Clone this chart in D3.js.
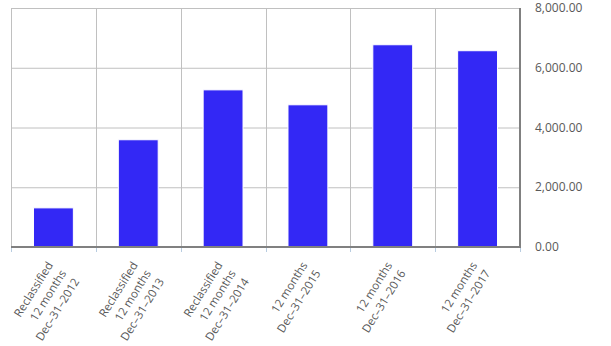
<!DOCTYPE html>
<html>
<head>
<meta charset="utf-8">
<script src="https://cdn.jsdelivr.net/npm/d3@7.9.0/dist/d3.min.js"></script>
<style>
  body { margin: 0; background: #fff; }
  svg { display: block; font-family: "Open Sans", sans-serif; }
</style>
</head>
<body>
<svg id="chart" width="611" height="346"></svg>
<script>
const periodLabels = [
  ['Reclassified', '12 months', 'Dec–31–2012'],
  ['Reclassified', '12 months', 'Dec–31–2013'],
  ['Reclassified', '12 months', 'Dec–31–2014'],
  ['12 months', 'Dec–31–2015'],
  ['12 months', 'Dec–31–2016'],
  ['12 months', 'Dec–31–2017']
];
const values = [1310, 3590, 5260, 4760, 6770, 6570];
const yTicks = [0, 2000, 4000, 6000, 8000];

const svg = d3.select('#chart');
const plotLeft = 11, plotRight = 520, plotTop = 8, plotBottom = 247;

const x = d3.scaleBand()
  .domain(d3.range(values.length))
  .range([plotLeft, plotRight])
  .paddingInner(0.53)
  .paddingOuter(0.265);
const y = d3.scaleLinear().domain([0, 8000]).range([plotBottom, plotTop]);

// category boundaries for vertical grid
const step = x.step();
const bounds = d3.range(values.length + 1).map(i => plotLeft + i * step);

// horizontal grid
svg.append('g').selectAll('line').data(yTicks.slice(1))
  .join('line')
  .attr('x1', plotLeft).attr('x2', plotRight)
  .attr('y1', d => y(d) + 0.5).attr('y2', d => y(d) + 0.5)
  .attr('stroke', '#c0c0c0').attr('stroke-width', 1);

// vertical grid
svg.append('g').selectAll('line').data(bounds.slice(0, -1))
  .join('line')
  .attr('x1', d => Math.round(d) + 0.5).attr('x2', d => Math.round(d) + 0.5)
  .attr('y1', plotTop).attr('y2', plotBottom)
  .attr('stroke', '#c0c0c0').attr('stroke-width', 1);

// ticks under axis
svg.append('g').selectAll('line').data(bounds)
  .join('line')
  .attr('x1', d => Math.round(d) + 0.5).attr('x2', d => Math.round(d) + 0.5)
  .attr('y1', plotBottom).attr('y2', plotBottom + 5)
  .attr('stroke', '#b8cce0').attr('stroke-width', 1);

// bars
svg.append('g').selectAll('rect').data(values)
  .join('rect')
  .attr('x', (d, i) => x(i))
  .attr('width', x.bandwidth())
  .attr('y', d => y(d))
  .attr('height', d => plotBottom - y(d))
  .attr('fill', '#3328f5')
  .attr('stroke', '#fff').attr('stroke-width', 1);

// axis lines
svg.append('line')
  .attr('x1', plotLeft).attr('x2', plotRight + 1)
  .attr('y1', plotBottom).attr('y2', plotBottom)
  .attr('stroke', '#808080').attr('stroke-width', 2);
svg.append('line')
  .attr('x1', plotRight).attr('x2', plotRight)
  .attr('y1', plotTop).attr('y2', plotBottom)
  .attr('stroke', '#808080').attr('stroke-width', 2);

// y labels
svg.append('g').selectAll('text').data(yTicks)
  .join('text')
  .attr('x', 535)
  .attr('y', d => y(d))
  .attr('dy', '0.35em')
  .attr('font-size', 12)
  .attr('fill', '#595959')
  .text(d => d3.format(',.2f')(d));

// x labels
const lab = svg.append('g').selectAll('g').data(periodLabels)
  .join('g')
  .attr('transform', (d, i) => `translate(${x(i) + x.bandwidth() / 2},${plotBottom + 18}) rotate(-58)`);
lab.selectAll('text').data(d => d)
  .join('text')
  .attr('x', 0)
  .attr('y', (d, i) => i * 15.5)
  .attr('text-anchor', 'end')
  .attr('font-size', 11.5)
  .attr('fill', '#595959')
  .text(d => d);
</script>
</body>
</html>
